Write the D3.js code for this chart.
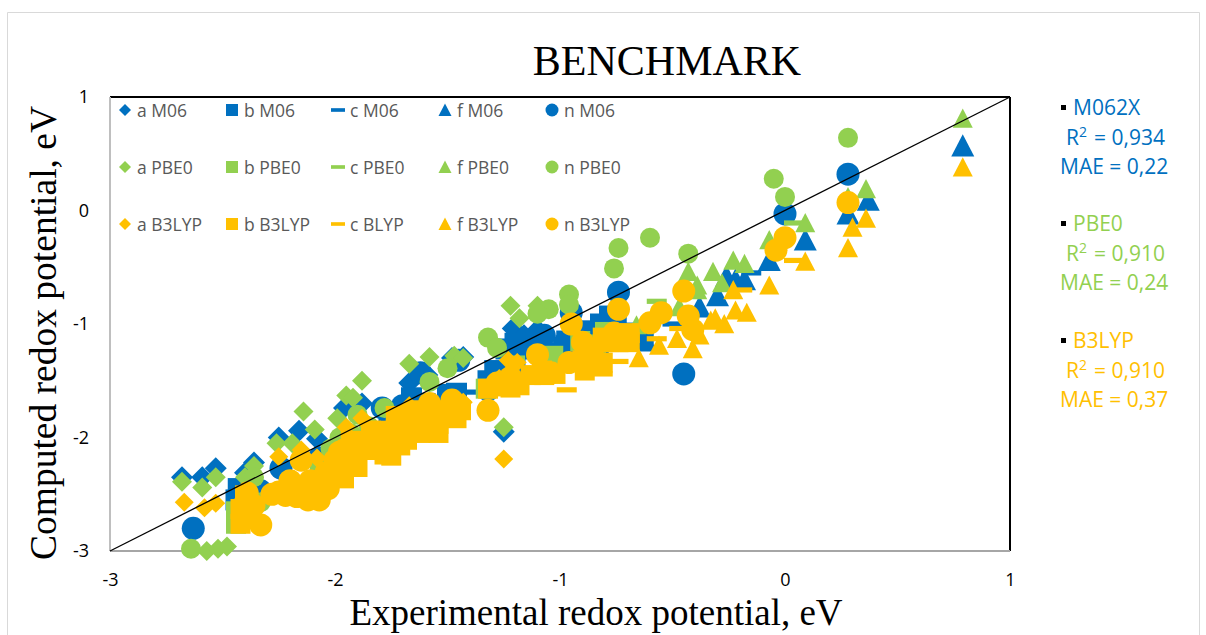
<!DOCTYPE html>
<html><head><meta charset="utf-8">
<script src="https://cdn.jsdelivr.net/npm/d3@7"></script>
<style>html,body{margin:0;background:#fff}svg{display:block}</style></head>
<body><svg id="c" width="1206" height="635"></svg>
<script>
const xTicks=[-3,-2,-1,0,1], yTicks=[-3,-2,-1,0,1];
const identityLine=[[-3,-3],[1,1]];
const a_M06=[[-2.68,-2.35],[-2.59,-2.35],[-2.53,-2.27],[-2.40,-2.31],[-2.36,-2.22],[-2.25,-2.00],[-2.16,-1.94],[-2.08,-2.01],[-1.96,-1.74],[-1.88,-1.70],[-1.67,-1.52],[-1.59,-1.45],[-1.48,-1.30],[-1.43,-1.29],[-1.25,-1.95],[-1.21,-1.04],[-1.10,-1.05],[-1.16,-1.10]];
const b_M06=[[-2.44,-2.55],[-2.43,-2.45],[-1.82,-1.96],[-1.76,-1.92],[-1.66,-1.65],[-1.60,-1.70],[-1.58,-1.72],[-1.50,-1.62],[-1.46,-1.61],[-1.32,-1.50],[-1.29,-1.41],[-1.24,-1.22],[-1.21,-1.41],[-1.20,-1.30],[-1.11,-1.22],[-1.09,-1.23],[-1.03,-1.27],[-1.20,-1.17],[-1.09,-1.14],[-1.06,-1.26],[-0.97,-1.15],[-0.90,-1.07],[-0.87,-1.06],[-0.85,-1.16],[-0.83,-1.20],[-0.82,-1.00],[-0.78,-0.93],[-0.75,-1.00],[-0.84,-1.13],[-0.63,-1.12],[-0.68,-1.08]];
const c_M06=[[-1.40,-1.60],[-0.50,-1.00],[-0.15,-0.55]];
const f_M06=[[0.79,0.57],[0.37,0.09],[0.28,-0.03],[0.09,-0.26],[-0.07,-0.44],[-0.18,-0.61],[-0.22,-0.61],[-0.30,-0.75],[-0.38,-0.85],[-0.62,-1.15],[-0.26,-0.58]];
const n_M06=[[0.28,0.32],[0.00,-0.03],[-0.74,-0.72],[-0.45,-1.44],[-0.98,-1.17],[-0.95,-0.90],[-1.32,-1.58],[-2.63,-2.80],[-2.33,-2.47],[-1.79,-1.74],[-1.70,-1.72],[-2.24,-2.27],[-2.07,-2.18],[-1.62,-1.43],[-1.45,-1.32],[-1.21,-1.25],[-1.07,-1.10]];
const a_PBE0=[[-2.68,-2.39],[-2.59,-2.44],[-2.53,-2.35],[-2.40,-2.35],[-2.36,-2.25],[-2.26,-2.05],[-2.19,-2.05],[-2.14,-1.77],[-2.09,-1.93],[-1.99,-1.83],[-1.95,-1.63],[-1.92,-1.65],[-1.88,-1.50],[-1.67,-1.35],[-1.58,-1.29],[-1.47,-1.28],[-1.43,-1.30],[-1.25,-1.91],[-1.22,-0.84],[-1.18,-0.95],[-1.10,-0.84],[-2.57,-3.00],[-2.52,-2.98],[-2.48,-2.96]];
const b_PBE0=[[-2.44,-2.65],[-2.44,-2.76],[-1.78,-2.00],[-1.66,-1.85],[-1.33,-1.57],[-1.03,-1.28],[-0.91,-1.15],[-0.84,-1.18],[-0.80,-1.07]];
const c_PBE0=[[-0.57,-0.80],[0.04,-0.11],[-1.20,-1.30]];
const f_PBE0=[[0.79,0.81],[0.36,0.19],[0.28,0.12],[0.09,-0.11],[-0.07,-0.26],[-0.18,-0.47],[-0.23,-0.44],[-0.43,-0.54],[-0.32,-0.54],[-0.39,-0.66],[-0.39,-0.70],[-0.28,-0.64],[-0.47,-0.85],[-0.66,-1.01]];
const n_PBE0=[[0.28,0.64],[-0.05,0.28],[0.00,0.12],[-0.60,-0.24],[-0.74,-0.33],[-0.76,-0.51],[-0.43,-0.38],[-0.96,-0.74],[-0.96,-0.83],[-1.05,-0.87],[-1.10,-0.91],[-1.32,-1.12],[-1.28,-1.21],[-1.50,-1.39],[-1.58,-1.51],[-2.64,-2.98],[-1.78,-1.74],[-1.70,-1.80],[-1.70,-1.85],[-2.33,-2.57],[-1.90,-1.80],[-1.85,-1.90],[-1.93,-1.96],[-1.98,-2.00],[-2.02,-2.10],[-2.07,-2.25],[-2.36,-2.35]];
const a_B3LYP=[[-2.67,-2.57],[-2.58,-2.62],[-2.53,-2.58],[-2.25,-2.17],[-2.15,-2.11],[-2.08,-2.18],[-1.95,-1.91],[-1.88,-1.83],[-1.67,-1.72],[-1.43,-1.69],[-1.25,-2.19],[-1.23,-1.32],[-1.19,-1.34],[-1.27,-1.48]];
const b_B3LYP=[[-2.42,-2.76],[-2.42,-2.63],[-2.40,-2.51],[-2.39,-2.70],[-1.96,-2.36],[-1.93,-2.20],[-1.93,-2.03],[-1.90,-2.26],[-1.89,-2.03],[-1.84,-2.11],[-1.84,-1.94],[-1.80,-1.94],[-1.75,-2.16],[-1.78,-2.15],[-1.75,-2.03],[-1.73,-1.94],[-1.73,-1.81],[-1.71,-2.07],[-1.68,-2.02],[-1.67,-1.85],[-1.62,-1.96],[-1.62,-1.76],[-1.56,-1.85],[-1.54,-1.96],[-1.54,-1.88],[-1.51,-1.76],[-1.46,-1.83],[-1.44,-1.76],[-1.32,-1.57],[-1.25,-1.54],[-1.22,-1.56],[-1.27,-1.55],[-1.22,-1.50],[-1.18,-1.54],[-1.13,-1.45],[-1.08,-1.41],[-1.07,-1.45],[-1.02,-1.44],[-0.90,-1.32],[-0.89,-1.41],[-0.87,-1.34],[-0.87,-1.23],[-0.81,-1.34],[-0.85,-1.26],[-0.78,-1.16],[-0.81,-1.12],[-0.74,-1.16],[-0.73,-1.10],[-0.69,-1.16],[-0.69,-1.08]];
const c_B3LYP=[[-0.97,-1.58],[-0.74,-1.33],[-0.81,-1.44],[-0.57,-1.13],[0.04,-0.44],[-0.19,-0.70],[-0.47,-1.04]];
const f_B3LYP=[[0.79,0.38],[0.36,-0.07],[0.30,-0.15],[0.28,-0.33],[0.09,-0.45],[-0.07,-0.66],[-0.23,-0.70],[-0.22,-0.88],[-0.17,-0.90],[-0.27,-1.00],[-0.31,-0.95],[-0.33,-0.97],[-0.40,-1.04],[-0.38,-1.10],[-0.48,-1.13],[-0.56,-1.19],[-0.41,-1.22],[-0.65,-1.30]];
const n_B3LYP=[[-2.38,-2.70],[-2.36,-2.60],[-2.33,-2.77],[-2.41,-2.61],[-2.39,-2.49],[-2.28,-2.50],[-2.25,-2.48],[-2.22,-2.51],[-2.20,-2.38],[-2.17,-2.52],[-2.17,-2.47],[-2.12,-2.55],[-2.11,-2.38],[-2.10,-2.50],[-2.07,-2.55],[-2.03,-2.45],[-2.19,-2.44],[-2.15,-2.20],[-2.04,-2.31],[-1.99,-2.29],[-2.00,-2.20],[-1.98,-2.25],[-1.98,-2.13],[-1.96,-2.11],[-1.90,-2.08],[-1.79,-2.05],[-1.69,-1.94],[-1.63,-1.87],[-1.58,-1.70],[-1.48,-1.67],[-1.32,-1.76],[-1.27,-1.52],[-1.28,-1.52],[-1.22,-1.47],[-1.10,-1.27],[-1.04,-1.43],[-0.96,-1.34],[-0.95,-1.00],[-0.90,-1.16],[-0.76,-1.08],[-0.74,-0.87],[-0.60,-0.99],[-0.55,-0.90],[-0.45,-0.71],[-0.43,-0.93],[-0.41,-1.05],[0.28,0.07],[0.00,-0.24],[-0.04,-0.35]];

const legendLabels=[["a M06","b M06","c M06","f M06","n M06"],["a PBE0","b PBE0","c PBE0","f PBE0","n PBE0"],["a B3LYP","b B3LYP","c BLYP","f B3LYP","n B3LYP"]];
const shapes=["diamond","square","dash","triangle","circle"];
const colors=["#0070C0","#92D050","#FFC000"];
const seriesData=[[a_M06,b_M06,c_M06,f_M06,n_M06],[a_PBE0,b_PBE0,c_PBE0,f_PBE0,n_PBE0],[a_B3LYP,b_B3LYP,c_B3LYP,f_B3LYP,n_B3LYP]];
const statNames=["M062X","PBE0","B3LYP"], statR2=["0,934","0,910","0,910"], statMAE=["0,22","0,24","0,37"];

const svg=d3.select("#c");
const x=d3.scaleLinear().domain([-3,1]).range([110,1010]);
const y=d3.scaleLinear().domain([-3,1]).range([551,97]);
const SERIF='"Liberation Serif",serif', SANS='"Open Sans",sans-serif';

svg.append("path").attr("d","M7.5,640V12.5H1199.5V640").attr("fill","none").attr("stroke","#d9d9d9").attr("stroke-width",1);

function symbolPath(shape,w){
  const type={draw(c){
    const h=w/2;
    if(shape==="diamond"){c.moveTo(0,-h);c.lineTo(h,0);c.lineTo(0,h);c.lineTo(-h,0);c.closePath();}
    else if(shape==="square"){c.rect(-h,-h,w,w);}
    else if(shape==="dash"){c.rect(-h,-w*0.13,w,w*0.26);}
    else if(shape==="triangle"){c.moveTo(0,-h);c.lineTo(h,h*0.92);c.lineTo(-h,h*0.92);c.closePath();}
    else {c.arc(0,0,h,0,2*Math.PI);}
  }};
  return d3.symbol().type(type).size(1)();
}
const sizes=[{diamond:22,square:21,dash:20,triangle:23,circle:23},{diamond:20,square:20,dash:20,triangle:20,circle:20},{diamond:19,square:20,dash:20,triangle:20,circle:23}];

svg.append("g").selectAll("line").data([[110,97,1010,97,"#000"],[1010,97,1010,551,"#000"],[110,97,110,551,"#bfbfbf"],[110,551,1010,551,"#a6a6a6"]]).join("line")
  .attr("x1",d=>d[0]).attr("y1",d=>d[1]).attr("x2",d=>d[2]).attr("y2",d=>d[3]).attr("stroke",d=>d[4]).attr("stroke-width",2);

seriesData.forEach((group,fi)=>{
  group.forEach((pts,si)=>{
    const p=symbolPath(shapes[si],sizes[fi][shapes[si]]);
    svg.append("g").selectAll("path").data(pts).join("path")
      .attr("d",p).attr("fill",colors[fi])
      .attr("transform",d=>`translate(${x(d[0])},${y(d[1])})`);
  });
});

svg.append("path").attr("d",d3.line().x(d=>x(d[0])).y(d=>y(d[1]))(identityLine)).attr("stroke","#000").attr("stroke-width",1.3).attr("fill","none");

const xa=svg.append("g").attr("transform","translate(0,551)").call(d3.axisBottom(x).tickValues(xTicks).tickSize(0).tickPadding(22).tickFormat(d3.format("d")));
const ya=svg.append("g").attr("transform","translate(110,0)").call(d3.axisLeft(y).tickValues(yTicks).tickSize(0).tickPadding(21).tickFormat(d3.format("d")));
[xa,ya].forEach(a=>{a.select(".domain").remove();a.selectAll("text").attr("font-family",SANS).attr("font-size",18).attr("fill","#000").text(function(){return this.textContent.replace("−","-");});});

svg.append("text").attr("x",667).attr("y",75).attr("text-anchor","middle").attr("font-family",SERIF).attr("font-size",42).text("BENCHMARK");
svg.append("text").attr("x",596).attr("y",625).attr("text-anchor","middle").attr("font-family",SERIF).attr("font-size",37).text("Experimental redox potential, eV");
svg.append("text").attr("transform","translate(56,333) rotate(-90)").attr("text-anchor","middle").attr("font-family",SERIF).attr("font-size",37.5).text("Computed redox potential, eV");

const colX=[125,232,338,445,552], rowY=[111,168,225];
const legendMark={diamond:12,square:12,dash:14,triangle:13,circle:13};
legendLabels.forEach((row,fi)=>row.forEach((label,si)=>{
  svg.append("path").attr("d",symbolPath(shapes[si],legendMark[shapes[si]])).attr("fill",colors[fi]).attr("transform",`translate(${colX[si]},${rowY[fi]-1})`);
  svg.append("text").attr("x",colX[si]+12).attr("y",rowY[fi]+6).attr("font-family",SANS).attr("font-size",17.5).attr("fill","#595959").text(label);
}));

const statY=[108,224,341];
statNames.forEach((name,i)=>{
  const g=svg.append("g").attr("fill",colors[i]).attr("font-family",SANS).attr("font-size",21);
  g.append("rect").attr("x",1061).attr("y",statY[i]-3).attr("width",5).attr("height",5).attr("fill","#000");
  g.append("text").attr("x",1073).attr("y",statY[i]+7).text(name);
  const t=g.append("text").attr("x",1066).attr("y",statY[i]+37);
  t.append("tspan").text("R");
  t.append("tspan").attr("dy",-8).attr("font-size",14).text("2");
  t.append("tspan").attr("dy",8).attr("dx",7).text("= "+statR2[i]);
  g.append("text").attr("x",1060).attr("y",statY[i]+66).text("MAE = "+statMAE[i]);
});
</script></body></html>
